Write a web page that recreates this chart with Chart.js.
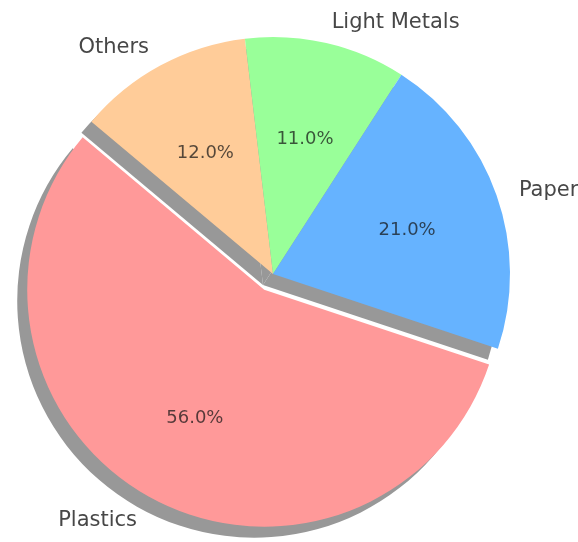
<!DOCTYPE html>
<html>
<head>
<meta charset="utf-8">
<script src="https://cdn.jsdelivr.net/npm/chart.js@4.4.0/dist/chart.umd.min.js"></script>
<style>
  html, body { margin: 0; padding: 0; background: #fff; }
</style>
</head>
<body>
<canvas id="myChart" width="578" height="542"></canvas>
<script>
// clockwise from the top-left, same as matplotlib's counterclockwise order reversed
const materials = ["Others", "Light Metals", "Paper", "Plastics"];
const shares = [12, 11, 21, 56];
const sliceColors = ["#ffcc99", "#99ff99", "#66b3ff", "#ff9999"];

const explodedSlice = "Plastics";
const explodePx = 18;
const shadowShift = { x: -10, y: 11 };
const shadowColor = "#989898";
const total = shares.reduce((a, b) => a + b, 0);

// slice shift outwards along its middle angle
function sliceShift(i, arc) {
  if (materials[i] !== explodedSlice) return [0, 0];
  const mid = (arc.startAngle + arc.endAngle) / 2;
  return [Math.cos(mid) * explodePx, Math.sin(mid) * explodePx];
}

const pieDecor = {
  id: 'pieDecor',
  beforeDatasetDraw(chart, args) {
    const ctx = chart.ctx;
    const arcs = args.meta.data;

    // shadows under every slice
    ctx.save();
    ctx.fillStyle = shadowColor;
    arcs.forEach((arc, i) => {
      const [dx, dy] = sliceShift(i, arc);
      const cx = arc.x + dx + shadowShift.x;
      const cy = arc.y + dy + shadowShift.y;
      ctx.beginPath();
      ctx.moveTo(cx, cy);
      ctx.arc(cx, cy, arc.outerRadius, arc.startAngle, arc.endAngle);
      ctx.closePath();
      ctx.fill();
    });
    ctx.restore();

    // the slices themselves
    arcs.forEach((arc, i) => {
      const [dx, dy] = sliceShift(i, arc);
      ctx.save();
      ctx.translate(dx, dy);
      arc.draw(ctx, chart.chartArea);
      ctx.restore();
    });
    return false;
  },
  afterDatasetsDraw(chart) {
    const ctx = chart.ctx;
    const arcs = chart.getDatasetMeta(0).data;
    ctx.save();
    ctx.textBaseline = 'middle';
    arcs.forEach((arc, i) => {
      const [dx, dy] = sliceShift(i, arc);
      const mid = (arc.startAngle + arc.endAngle) / 2;
      const cx = arc.x + dx, cy = arc.y + dy;
      const r = arc.outerRadius;

      // name outside
      const lx = cx + Math.cos(mid) * r * 1.1;
      const ly = cy + Math.sin(mid) * r * 1.1 + 3;
      ctx.font = '21px "DejaVu Sans"';
      ctx.fillStyle = '#474747';
      ctx.textAlign = lx > cx ? 'left' : 'right';
      ctx.fillText(materials[i], lx, ly);

      // percent inside
      const px = cx + Math.cos(mid) * r * 0.6;
      const py = cy + Math.sin(mid) * r * 0.6 + 4;
      ctx.font = '18px "DejaVu Sans"';
      ctx.fillStyle = 'rgba(20,20,20,0.72)';
      ctx.textAlign = 'center';
      ctx.fillText((shares[i] / total * 100).toFixed(1) + '%', px, py);
    });
    ctx.restore();
  }
};

new Chart(document.getElementById('myChart'), {
  type: 'pie',
  data: {
    labels: materials,
    datasets: [{
      data: shares,
      backgroundColor: sliceColors,
      borderWidth: 0
    }]
  },
  options: {
    responsive: false,
    animation: false,
    rotation: -50,
    radius: 237,
    layout: { padding: { left: 0, right: 32, top: 6, bottom: 0 } },
    plugins: {
      legend: { display: false },
      tooltip: { enabled: false }
    }
  },
  plugins: [pieDecor]
});
</script>
</body>
</html>
